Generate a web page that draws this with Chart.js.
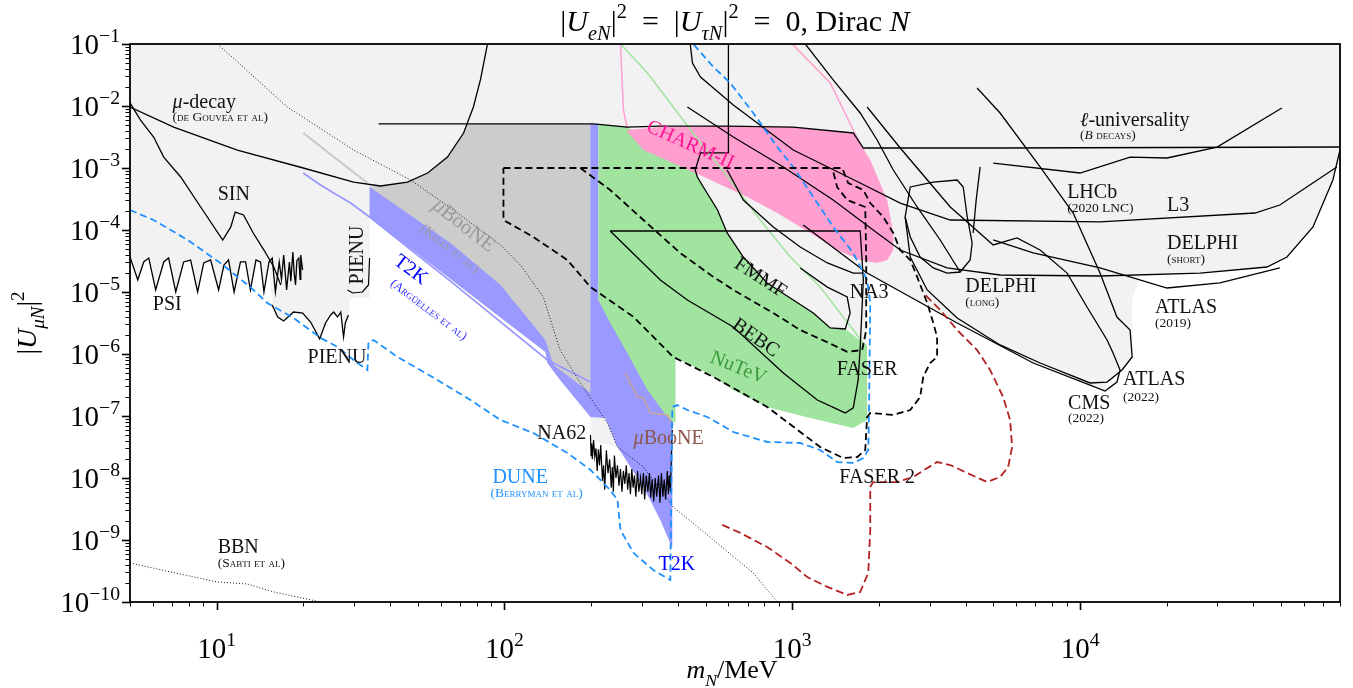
<!DOCTYPE html>
<html>
<head>
<meta charset="utf-8">
<script src="https://cdn.jsdelivr.net/npm/chart.js@4.4.0/dist/chart.umd.min.js"></script>
<style>
  html, body { margin: 0; padding: 0; background: #fff; }
  #wrap { width: 1353px; height: 688px; }
</style>
</head>
<body>
<div id="wrap"><canvas id="chart" width="1353" height="688"></canvas></div>
<script>
// axis ranges and ticks
const xMin = 5, xMax = 8e4, yMin = 1e-10, yMax = 0.1;
const xMajor = [10, 100, 1000, 10000];
const xTickExp = ['1', '2', '3', '4'];
const yMajor = [1e-10, 1e-9, 1e-8, 1e-7, 1e-6, 1e-5, 1e-4, 1e-3, 1e-2, 1e-1];
const yTickExp = ['\u221210', '\u22129', '\u22128', '\u22127', '\u22126', '\u22125', '\u22124', '\u22123', '\u22122', '\u22121'];

// curves: [m_N in MeV, |U_muN|^2]
const psi = [[5.0,3.67e-5],[5.32,1.56e-5],[5.58,3.05e-5],[5.81,3.53e-5],[6.14,1.08e-5],[6.55,3.05e-5],[6.81,3.53e-5],[7.21,1.0e-5],[7.68,3.05e-5],[8.12,3.28e-5],[8.59,1.0e-5],[9.02,2.94e-5],[9.53,3.28e-5],[10.16,1.08e-5],[10.6,2.72e-5],[11.0,3.28e-5],[11.5,1.0e-5],[12.1,3.05e-5],[12.6,3.05e-5],[13.1,1.08e-5],[13.7,3.28e-5],[14.2,3.05e-5],[14.6,1.0e-5],[15.2,3.05e-5],[15.6,3.53e-5],[16.0,1.0e-5],[16.5,3.05e-5],[16.8,1.6e-5],[17.1,3.95e-5],[17.5,1.08e-5],[17.9,3.05e-5],[18.1,1.5e-5],[18.4,4.42e-5],[18.6,2.0e-5],[18.8,1.30e-5],[19.0,3.2e-5],[19.3,3.53e-5],[19.5,1.6e-5],[19.6,3.95e-5],[19.9,2.26e-5]];
const pienu = [[15.6,6.17e-6],[16.3,3.95e-6],[17.1,3.41e-6],[18.5,4.75e-6],[19.9,4.58e-6],[21.2,3.28e-6],[22.8,1.75e-6],[23.9,3.16e-6],[24.9,4.26e-6],[25.5,4.75e-6],[26.3,3.95e-6],[27.0,4.75e-6],[27.6,1.88e-6],[28.0,3.16e-6],[28.7,4.26e-6]];
const pienuHigh = [[34.0,3.53e-5],[33.7,1.30e-5],[32.1,1.0e-5],[29.7,9.64e-6],[28.5,1.08e-5]];
const sin = [[5.0,1.12e-2],[5.44,5.94e-3],[6.04,3.16e-3],[6.55,1.50e-3],[7.50,7.16e-4],[8.80,2.35e-4],[10.5,6.90e-5],[11.2,1.12e-4],[11.6,1.95e-4],[12.4,1.75e-4],[13.4,8.95e-5],[14.6,4.75e-5],[15.8,2.53e-5],[16.7,1.30e-5]];
const muDecay = [[5.0,9.64e-3],[7.09,4.58e-3],[11.8,1.95e-3],[20.0,1.0e-3],[29.9,5.94e-4],[37.1,5.13e-4],[46.0,5.94e-4],[54.1,8.30e-4],[63.4,1.50e-3],[72.1,3.67e-3],[78.0,9.64e-3],[82.5,2.63e-2],[87.3,0.1]];
const lepUniv = [[36.5,5.13e-3],[204,5.13e-3],[267,4.58e-3],[348,4.75e-3],[594,4.75e-3],[1008,4.58e-3],[1629,3.67e-3],[1766,2.10e-3],[5274,2.10e-3],[80000,2.18e-3]];
const na3 = [[600,0.1],[600,1.75e-3],[480,1.75e-3],[460,9.29e-4],[468,7.16e-4],[491,4.94e-4],[550,2.10e-4],[594,8.95e-5],[676,3.67e-5],[818,1.40e-5],[1008,7.43e-6],[1183,4.58e-6],[1355,2.63e-6],[1528,2.53e-6],[1589,4.58e-6],[1552,8.30e-6],[1324,1.20e-5],[1066,2.44e-5]];
const fmmf = [[594,9.29e-4],[676,3.05e-4],[859,1.12e-4],[1066,5.32e-5],[1324,2.94e-5],[1629,2.02e-5],[1766,2.02e-5]];
const bebc = [[233,9.64e-5],[1722,9.64e-5],[1766,1.56e-5],[1722,1.30e-6],[1694,3.81e-7],[1629,1.35e-7],[1528,1.12e-7],[1222,1.81e-7],[931,4.94e-7],[624,2.72e-6],[432,7.43e-6],[348,1.56e-5],[233,9.64e-5]];
const faserOuter = [[99.2,1e-3],[1491,1e-3],[1564,5.73e-4],[1766,4.42e-4],[1866,2.72e-4],[2070,1.62e-4],[2244,8.95e-5],[2372,4.75e-5],[2570,3.28e-5],[2716,1.75e-5],[2944,6.65e-6],[3090,3.16e-6],[3186,1.88e-6],[3186,8.95e-7],[3013,7.16e-7],[2851,4.26e-7],[2782,2.02e-7],[2570,1.25e-7],[2244,1.04e-7],[1866,1.12e-7],[1820,9.64e-8],[1793,2.83e-8],[1683,2.18e-8],[1503,2.10e-8],[1250,3.16e-8],[818,1.40e-7],[532,4.26e-7],[386,8.95e-7],[281,3.95e-6],[199,1.20e-5],[165.5,3.28e-5],[126,7.71e-5],[99.2,1.45e-4],[99.2,1e-3]];
const faserInner = [[183.6,1e-3],[233,4.42e-4],[304,1.45e-4],[408,4.26e-5],[532,1.75e-5],[624,1.08e-5],[859,4.58e-6],[1066,2.44e-6],[1387,1.40e-6],[1552,1.08e-6],[1750,1.16e-6],[1807,2.44e-6],[1807,3.28e-5],[1793,2.35e-4],[1722,2.53e-4],[1552,3.05e-4],[1432,4.94e-4],[1377,1e-3]];
const dune = [[5.0,2.10e-4],[6.04,1.45e-4],[7.93,6.90e-5],[10.3,2.94e-5],[13.1,1.20e-5],[15.0,6.65e-6],[18.5,3.81e-6],[23.0,1.81e-6],[26.3,1.30e-6],[29.9,8.0e-7],[33.4,5.52e-7],[33.7,1.56e-6],[35.1,1.68e-6],[42.5,8.95e-7],[58.5,3.81e-7],[76.2,1.81e-7],[96.9,8.61e-8],[126,5.32e-8],[165.5,2.53e-8],[199,1.35e-8],[233,6.40e-9],[247,4.42e-9],[253,1.45e-9],[281,6.17e-10],[329,3.28e-10],[377,2.26e-10],[383,1.40e-7],[399,1.50e-7],[432,1.25e-7],[507,9.64e-8],[624,5.52e-8],[818,3.81e-8],[1066,3.67e-8],[1250,2.83e-8],[1432,1.81e-8],[1629,1.75e-8],[1766,2.10e-8],[1837,2.83e-8],[1850,1.81e-7],[1866,6.65e-6],[1820,1.56e-5],[1629,4.26e-5],[1387,1.12e-4],[1183,3.41e-4],[1008,1.04e-3],[887,2.18e-3],[732,7.71e-3],[609,2.35e-2],[532,4.26e-2],[453,0.1]];
const faser2Proj = [[571,1.75e-9],[660,1.30e-9],[818,7.71e-10],[985,4.26e-10],[1127,2.53e-10],[1324,1.75e-10],[1552,1.30e-10],[1722,1.45e-10],[1837,2.94e-10],[1866,1.45e-9],[1866,7.16e-9],[1910,8.61e-9],[2317,8.61e-9],[2630,1.04e-8],[3186,1.81e-8],[3540,1.62e-8],[4055,1.20e-8],[4753,8.61e-9],[5274,1.04e-8],[5623,1.50e-8],[5807,3.16e-8],[5714,8.61e-8],[5404,2.02e-7],[4870,5.52e-7],[4387,1.16e-6],[3741,2.44e-6],[3266,5.13e-6],[2851,9.64e-6]];
const charmL = [[253,0.1],[259,8.61e-3],[267,4.42e-3]];
const charmR = [[1000,0.1],[1355,2.35e-2],[1629,4.10e-3],[1766,1.95e-3],[1866,1.12e-3]];
const nutevLine = [[253,0.1],[314,3.41e-2],[386,9.64e-3],[480,2.53e-3],[609,6.40e-4],[774,1.45e-4],[985,3.67e-5],[1250,1.20e-5],[1503,3.95e-6],[1766,1.50e-6]];
const kellyLine = [[20.0,3.67e-3],[33.4,5.73e-4]];
const t2kLine = [[20.0,8.30e-4],[22.4,5.73e-4],[25.5,3.95e-4],[29.2,2.72e-4],[34.0,1.62e-4],[64.9,1.50e-5],[141,8.0e-7],[199,3.53e-7]];
const ubooneLine = [[263,4.94e-7],[290,2.02e-7],[304,1.95e-7],[321,1.12e-7],[368,1.04e-7],[386,7.16e-8]];
const na62 = [[199,4.94e-8],[200,2.3e-8],[201,3.6e-8],[202,2.0e-8],[204,4.1e-8],[206,2.2e-8],[208,3.0e-8],[210,1.3e-8],[212,2.9e-8],[214,1.6e-8],[216,3.4e-8],[219,9.0e-9],[221,1.6e-8],[223,6.5e-9],[226,2.8e-8],[229,1.2e-8],[232,2.0e-8],[235,7.0e-9],[237,1.5e-8],[239,6.0e-9],[241,2.3e-8],[244,1.0e-8],[247,1.6e-8],[250,7.5e-9],[253,1.4e-8],[256,6.0e-9],[259,1.3e-8],[262,8.0e-9],[265,1.6e-8],[268,6.5e-9],[271,1.2e-8],[274,5.5e-9],[277,1.4e-8],[280,7.0e-9],[283,1.1e-8],[286,5.0e-9],[290,1.3e-8],[293,6.0e-9],[297,1.0e-8],[300,5.5e-9],[304,1.2e-8],[307,4.5e-9],[311,1.1e-8],[315,6.0e-9],[319,1.2e-8],[322,4.8e-9],[326,9.5e-9],[330,4.2e-9],[334,1.0e-8],[338,5.0e-9],[343,1.1e-8],[347,4.0e-9],[351,1.2e-8],[355,5.0e-9],[359,9.5e-9],[363,4.5e-9],[368,1.3e-8],[371,5.5e-9],[374,1.1e-8],[377,6.0e-9],[380,2.0e-8],[383,5.94e-8]];
const dotDiag = [[10.08,0.1],[17.6,9.64e-3],[29.9,1.95e-3],[47.2,6.40e-4],[66.5,2.10e-4],[96.9,5.73e-5],[113.6,2.72e-5],[136.5,8.30e-6],[156,1.16e-6],[183.6,3.41e-7],[228,7.71e-8],[247,3.16e-8],[304,1.50e-8],[386,3.41e-9],[532,1e-9],[732,2.94e-10],[887,1e-10]];
const bbn = [[5.0,4.26e-10],[6.92,3.05e-10],[10.08,2.10e-10],[12.8,1.95e-10],[15.8,1.45e-10],[23.0,1e-10]];
const l3 = [[442,0.1],[450,4.94e-2],[480,2.94e-2],[624,1.04e-2],[1008,1.95e-3],[1722,5.73e-4],[2372,2.72e-4],[3540,1.45e-4],[11730,1.35e-4],[40540,1.88e-4],[49430,2.53e-4],[78000,1.04e-3]];
const delphiShort = [[432,9.64e-3],[624,3.16e-3],[931,1.04e-3],[1387,3.05e-4],[1972,8.95e-5],[2372,4.75e-5],[3451,2.44e-5],[5274,1.88e-5],[11730,1.81e-5],[26120,2.02e-5],[44590,2.53e-5],[52340,3.67e-5],[64450,1.12e-4],[75580,6.40e-4],[80000,1.95e-3]];
const cms = [[1092,1.20e-4],[1820,2.02e-5],[3741,3.16e-6],[6871,7.16e-7],[10830,3.16e-7],[12220,2.53e-7],[13430,3.53e-7],[13770,5.52e-7],[13020,1.04e-6],[12410,1.68e-6],[10570,5.73e-6],[9016,2.02e-5],[7262,4.75e-5],[6039,7.43e-5],[4990,5.73e-5],[3540,2.35e-4],[2372,2.10e-3],[1820,9.64e-3]];
const atlas19 = [[4990,6.90e-5],[6871,4.26e-5],[11730,2.44e-5],[20050,1.16e-5],[30620,1.40e-5],[49430,2.44e-5]];
const atlas22 = [[4387,1.95e-2],[5274,7.71e-3],[7262,1.04e-3],[9462,1.88e-4],[11730,2.02e-5],[13430,3.95e-6],[14920,2.44e-6],[15170,8.95e-7],[13990,5.52e-7],[12410,3.53e-7],[10830,3.41e-7],[7262,7.16e-7],[5274,1.40e-6],[3741,3.81e-6],[2944,1.08e-5],[2570,3.67e-5],[2467,1.62e-4]];
const delphiLong = [[3926,4.94e-4],[3741,6.40e-4],[3090,5.94e-4],[2570,4.94e-4],[2467,1.62e-4],[2570,7.71e-5],[2782,3.67e-5],[3090,2.44e-5],[3451,2.02e-5],[3831,2.10e-5],[4150,3.28e-5],[4217,6.17e-5],[4055,1.62e-4],[3926,4.94e-4]];
const delphiLongTail = [[4496,1.04e-3],[4355,3.05e-4],[4250,8.95e-5]];
const lhcb = [[4990,1.20e-3],[10000,8.30e-4],[14920,1.50e-3],[20050,1.45e-3],[29920,2.18e-3],[50230,9.29e-3]];
const longLine = [[1110,0.1],[1387,2.63e-2],[1722,7.71e-3],[1972,2.83e-3],[2244,9.29e-4],[2716,2.35e-4],[3266,6.90e-5],[3831,2.10e-5]];

// filled regions
const t2kRegion = [[34.0,4.94e-4],[37.1,5.13e-4],[46.0,5.94e-4],[54.1,8.30e-4],[63.4,1.50e-3],[72.1,3.67e-3],[73.8,5.13e-3],[199,5.13e-3],[212,5.13e-3],[212,7.43e-6],[383,8.61e-8],[383,7.43e-10],[348,2.10e-9],[304,7.16e-9],[247,3.16e-8],[199,9.64e-8],[156,3.81e-7],[141,7.16e-7],[138.7,1.08e-6],[64.9,1.62e-5],[34.0,1.62e-4]];
const kellyRegion = [[34.0,4.94e-4],[37.1,5.13e-4],[46.0,5.94e-4],[54.1,8.30e-4],[63.4,1.50e-3],[72.1,3.67e-3],[73.8,5.13e-3],[199,5.13e-3],[199,2.35e-7],[148,6.65e-7],[138.7,1.68e-6],[96.9,1.30e-5],[64.9,6.17e-5]];
const na62Region = [[199,9.64e-8],[224,9.29e-8],[247,3.16e-8],[199,4.10e-8]];
const nutevRegion = [[212,5.13e-3],[267,4.58e-3],[453,9.29e-4],[460,9.29e-4],[468,7.16e-4],[491,4.94e-4],[550,2.10e-4],[594,8.95e-5],[676,3.67e-5],[818,1.40e-5],[1008,7.43e-6],[1183,4.58e-6],[1355,2.63e-6],[1528,2.53e-6],[1766,1.50e-6],[1820,1.40e-6],[1820,8.61e-8],[1629,6.40e-8],[1155,9.29e-8],[818,1.40e-7],[624,2.63e-7],[507,4.94e-7],[408,8.0e-7],[393,8.61e-7],[393,7.71e-8],[368,9.64e-8],[314,2.63e-7],[267,1.04e-6],[233,3.16e-6],[212,7.43e-6]];
const charmRegion = [[267,4.10e-3],[348,4.58e-3],[594,4.75e-3],[1008,4.58e-3],[1629,3.67e-3],[1866,1.35e-3],[2138,3.05e-4],[2244,8.95e-5],[2244,4.75e-5],[2138,3.28e-5],[1972,2.94e-5],[1722,3.28e-5],[1432,4.75e-5],[1155,8.95e-5],[887,1.88e-4],[698,3.41e-4],[453,8.61e-4],[304,1.95e-3],[267,3.83e-3]];
// lower envelope of the overall excluded (light grey) area, right to left
const excludedEdge = [[80000,1.95e-3],[75580,6.40e-4],[64450,1.12e-4],[52340,3.67e-5],[44590,2.53e-5],[26120,2.02e-5],[16150,1.81e-5],[15170,7.43e-6],[15170,8.95e-7],[13990,5.52e-7],[12410,3.53e-7],[12220,2.53e-7],[10830,3.16e-7],[6871,7.16e-7],[3741,3.16e-6],[1820,2.02e-5],[1820,8.61e-8],[1629,6.40e-8],[1155,9.29e-8],[818,1.40e-7],[624,2.63e-7],[507,4.94e-7],[408,8.0e-7],[393,8.61e-7],[212,7.43e-6],[138.7,1.40e-6],[64.9,1.75e-5],[34.0,1.81e-4],[34.0,8.0e-6],[29.2,8.0e-6]];

const excludedRegion = [[xMin, yMax], [xMax, yMax]]
  .concat(excludedEdge)
  .concat(pienu.slice().reverse())
  .concat(psi.filter(p => p[0] <= 15.2).reverse());

const FONT = '"Liberation Serif", "DejaVu Serif", serif';

// text annotations, anchored in data coordinates
const labels = [
  {x: 7.03, y: 1.12e-2, parts: [['\u03bc', 'i'], ['-decay', '']]},
  {x: 7.03, y: 6.5e-3, text: '(de Gouvea et al)', sc: true},
  {x: 10.08, y: 3.67e-4, text: 'SIN'},
  {x: 6.0, y: 6.17e-6, text: 'PSI'},
  {x: 20.7, y: 8.61e-7, text: 'PIENU'},
  {x: 30.9, y: 3.95e-5, text: 'PIENU', rot: -90},
  {x: 72.1, y: 1.16e-4, parts: [['\u03bc', 'i'], ['BooNE', '']], color: '#9a9a9a', rot: 38, size: 21},
  {x: 64.5, y: 5.0e-5, text: '(Kelly et al)', sc: true, color: '#9a9a9a', rot: 38},
  {x: 47.2, y: 2.26e-5, text: 'T2K', color: '#0000ff', rot: 37},
  {x: 54.5, y: 5.13e-6, text: '(Arg\u00fcelles et al)', sc: true, color: '#2a2aff', rot: 37, size: 12.5},
  {x: 442, y: 2.35e-3, text: 'CHARM-II', color: '#ff1493', rot: 24},
  {x: 774, y: 1.68e-5, text: 'FMMF', rot: 33},
  {x: 745, y: 1.81e-6, text: 'BEBC', rot: 35},
  {x: 649, y: 5.94e-7, text: 'NuTeV', color: '#3a9a3a', rot: 22},
  {x: 1850, y: 9.64e-6, text: 'NA3', align: 'center'},
  {x: 1820, y: 5.52e-7, text: 'FASER', align: 'center'},
  {x: 1972, y: 1e-8, text: 'FASER 2', align: 'center'},
  {x: 10000, y: 5.73e-3, parts: [['\u2113', 'i'], ['-universality', '']]},
  {x: 10000, y: 3.3e-3, parts: [['(', ''], ['B', 'i'], [' decays)', '']], sc: true},
  {x: 9016, y: 3.95e-4, text: 'LHCb'},
  {x: 9016, y: 2.2e-4, text: '(2020 LNC)', sc: true},
  {x: 20050, y: 2.44e-4, text: 'L3'},
  {x: 20050, y: 5.94e-5, text: 'DELPHI'},
  {x: 20050, y: 3.3e-5, text: '(short)', sc: true},
  {x: 3990, y: 1.20e-5, text: 'DELPHI'},
  {x: 3990, y: 6.7e-6, text: '(long)', sc: true},
  {x: 18200, y: 5.52e-6, text: 'ATLAS'},
  {x: 18200, y: 3.1e-6, text: '(2019)', sc: true},
  {x: 14100, y: 3.81e-7, text: 'ATLAS'},
  {x: 14100, y: 2.0e-7, text: '(2022)', sc: true},
  {x: 9086, y: 1.56e-7, text: 'CMS'},
  {x: 9086, y: 9.0e-8, text: '(2022)', sc: true},
  {x: 130, y: 5.13e-8, text: 'NA62'},
  {x: 281, y: 4.26e-8, parts: [['\u03bc', 'i'], ['BooNE', '']], color: '#8c564b'},
  {x: 90.8, y: 1e-8, text: 'DUNE', color: '#1e90ff'},
  {x: 89.4, y: 5.6e-9, text: '(Berryman et al)', sc: true, color: '#1e90ff'},
  {x: 343, y: 3.95e-10, text: 'T2K', color: '#0000ff'},
  {x: 10.08, y: 7.43e-10, text: 'BBN'},
  {x: 10.08, y: 4.2e-10, text: '(Sabti et al)', sc: true}
];

function pts(arr) { return arr.map(p => ({x: p[0], y: p[1]})); }
function curve(arr, color, width, dash, order) {
  return {data: pts(arr), borderColor: color, borderWidth: width, borderDash: dash || [],
          fill: false, pointRadius: 0, tension: 0, order: order || 0};
}
function region(arr, color, order) {
  return {data: pts(arr), borderColor: 'rgba(0,0,0,0)', borderWidth: 0, backgroundColor: color,
          fill: 'shape', pointRadius: 0, tension: 0, order: order};
}

function fontFor(style, size, sc) {
  const it = style.indexOf('i') >= 0 ? 'italic ' : '';
  const small = (style.indexOf('sub') >= 0 || style.indexOf('sup') >= 0);
  const s = small ? size * 0.68 : size;
  return it + (sc ? 'small-caps ' : '') + s + 'px ' + FONT;
}

function drawRich(ctx, parts, x, y, size, align, sc) {
  let total = 0;
  const widths = parts.map(([t, st]) => {
    ctx.font = fontFor(st, size, sc);
    ctx.fontVariantCaps = sc ? 'small-caps' : 'normal';
    const w = ctx.measureText(t).width;
    total += w;
    return w;
  });
  let cx = align === 'center' ? x - total / 2 : align === 'right' ? x - total : x;
  ctx.textAlign = 'left';
  parts.forEach(([t, st], i) => {
    ctx.font = fontFor(st, size, sc);
    ctx.fontVariantCaps = sc ? 'small-caps' : 'normal';
    let dy = 0;
    if (st.indexOf('sub') >= 0) dy = size * 0.3;
    if (st.indexOf('sup') >= 0) dy = -size * 0.42;
    ctx.fillText(t, cx, y + dy);
    cx += widths[i];
  });
  ctx.fontVariantCaps = 'normal';
}

const axesPlugin = {
  id: 'axesFrame',
  afterDraw(chart) {
    const {ctx, chartArea: a, scales: {x, y}} = chart;
    ctx.save();
    ctx.strokeStyle = '#000';
    // x ticks
    for (let d = 1; d <= 1e4; d *= 10) {
      for (let k = 1; k <= 9; k++) {
        const v = k * d;
        if (v < xMin || v > xMax) continue;
        const px = Math.round(x.getPixelForValue(v)) + 0.5;
        ctx.lineWidth = k === 1 ? 1.6 : 1;
        ctx.beginPath();
        ctx.moveTo(px, a.bottom);
        ctx.lineTo(px, a.bottom + (k === 1 ? 8 : 4.5));
        ctx.stroke();
      }
    }
    // y ticks
    for (let e = -10; e <= -1; e++) {
      for (let k = 1; k <= 9; k++) {
        const v = k * Math.pow(10, e);
        if (v < yMin * 0.999 || v > yMax * 1.001) continue;
        const py = Math.round(y.getPixelForValue(v)) + 0.5;
        ctx.lineWidth = k === 1 ? 1.6 : 1;
        ctx.beginPath();
        ctx.moveTo(a.left, py);
        ctx.lineTo(a.left - (k === 1 ? 8 : 4.5), py);
        ctx.stroke();
      }
    }
    // frame
    ctx.lineWidth = 1.8;
    ctx.strokeRect(a.left, a.top, a.right - a.left, a.bottom - a.top);

    ctx.fillStyle = '#000';
    ctx.textBaseline = 'alphabetic';
    // tick labels
    xMajor.forEach((v, i) => {
      drawRich(ctx, [['10', ''], [xTickExp[i], 'sup']], x.getPixelForValue(v), a.bottom + 56, 29, 'center');
    });
    yMajor.forEach((v, i) => {
      drawRich(ctx, [['10', ''], [yTickExp[i], 'sup']], a.left - 10, y.getPixelForValue(v) + 10, 29, 'right');
    });
    // title
    drawRich(ctx, [['|', ''], ['U', 'i'], ['eN', 'subi'], ['|', ''], ['2', 'sup'], ['  =  ', ''],
                   ['|', ''], ['U', 'i'], ['\u03c4N', 'subi'], ['|', ''], ['2', 'sup'],
                   ['  =  0, Dirac ', ''], ['N', 'i']], (a.left + a.right) / 2, 31, 30, 'center');
    // axis titles
    drawRich(ctx, [['m', 'i'], ['N', 'subi'], ['/MeV', '']], (a.left + a.right) / 2 - 3, 678, 26, 'center');
    ctx.save();
    ctx.translate(36, (a.top + a.bottom) / 2);
    ctx.rotate(-Math.PI / 2);
    drawRich(ctx, [['|', ''], ['U', 'i'], ['\u03bcN', 'subi'], ['|', ''], ['2', 'sup']], 0, 0, 28, 'center');
    ctx.restore();
    ctx.restore();
  }
};

const labelPlugin = {
  id: 'regionLabels',
  afterDatasetsDraw(chart) {
    const {ctx, scales: {x, y}} = chart;
    ctx.save();
    ctx.textBaseline = 'middle';
    labels.forEach(l => {
      const size = l.size || (l.sc ? 13.5 : 20);
      const parts = l.parts || [[l.text, '']];
      ctx.fillStyle = l.color || '#111';
      const px = x.getPixelForValue(l.x), py = y.getPixelForValue(l.y);
      if (l.rot) {
        ctx.save();
        ctx.translate(px, py);
        ctx.rotate(l.rot * Math.PI / 180);
        drawRich(ctx, parts, 0, 0, size, 'center', l.sc);
        ctx.restore();
      } else {
        drawRich(ctx, parts, px, py, size, l.align || 'left', l.sc);
      }
    });
    ctx.restore();
  }
};

const datasets = [
  region(excludedRegion, '#f2f2f2', 60),
  region(t2kRegion, '#9999ff', 50),
  region(kellyRegion, '#cccccc', 45),
  region(na62Region, '#f2f2f2', 44),
  region(nutevRegion, '#a0e4a0', 40),
  region(charmRegion, '#ff9fcf', 35),
  curve(kellyLine, '#c8c8c8', 2, null, 5),
  curve(t2kLine, '#9999ff', 1.8, null, 5),
  curve(charmL, '#ff9fcf', 1.5, null, 5),
  curve(charmR, '#ff9fcf', 1.5, null, 5),
  curve(nutevLine, '#a0e4a0', 1.5, null, 5),
  curve(ubooneLine, '#c8a59a', 1.5, null, 5),
  curve(dotDiag, '#000', 0.9, [1, 2], 4),
  curve(bbn, '#000', 0.9, [1, 2], 4),
  curve(psi, '#000', 1.3, null, 2),
  curve(pienu, '#000', 1.3, null, 2),
  curve(pienuHigh, '#000', 1.2, null, 2),
  curve(sin, '#000', 1.3, null, 2),
  curve(muDecay, '#000', 1.3, null, 2),
  curve(lepUniv, '#000', 1.3, null, 2),
  curve(na3, '#000', 1.3, null, 2),
  curve(fmmf, '#000', 1.3, null, 2),
  curve(bebc, '#000', 1.3, null, 2),
  curve(na62, '#000', 1.2, null, 2),
  curve(l3, '#000', 1.3, null, 2),
  curve(delphiShort, '#000', 1.3, null, 2),
  curve(cms, '#000', 1.3, null, 2),
  curve(atlas19, '#000', 1.3, null, 2),
  curve(atlas22, '#000', 1.3, null, 2),
  curve(delphiLong, '#000', 1.3, null, 2),
  curve(delphiLongTail, '#000', 1.3, null, 2),
  curve(lhcb, '#000', 1.3, null, 2),
  curve(longLine, '#000', 1.3, null, 2),
  curve(faserOuter, '#000', 1.8, [7, 4], 1),
  curve(faserInner, '#000', 1.8, [7, 4], 1),
  curve(dune, '#1e90ff', 1.8, [7, 4], 1),
  curve(faser2Proj, '#b22222', 1.8, [8, 4], 1)
];

document.addEventListener('DOMContentLoaded', function () {
  const ctx = document.getElementById('chart').getContext('2d');
  new Chart(ctx, {
    type: 'line',
    data: {datasets: datasets},
    options: {
      responsive: false,
      animation: false,
      devicePixelRatio: 1,
      layout: {padding: {left: 130, right: 13, top: 44, bottom: 86}},
      plugins: {legend: {display: false}, tooltip: {enabled: false}, title: {display: false}},
      elements: {point: {radius: 0}, line: {tension: 0}},
      scales: {
        x: {type: 'logarithmic', min: xMin, max: xMax, display: false},
        y: {type: 'logarithmic', min: yMin, max: yMax, display: false}
      }
    },
    plugins: [labelPlugin, axesPlugin]
  });
});
</script>
</body>
</html>
